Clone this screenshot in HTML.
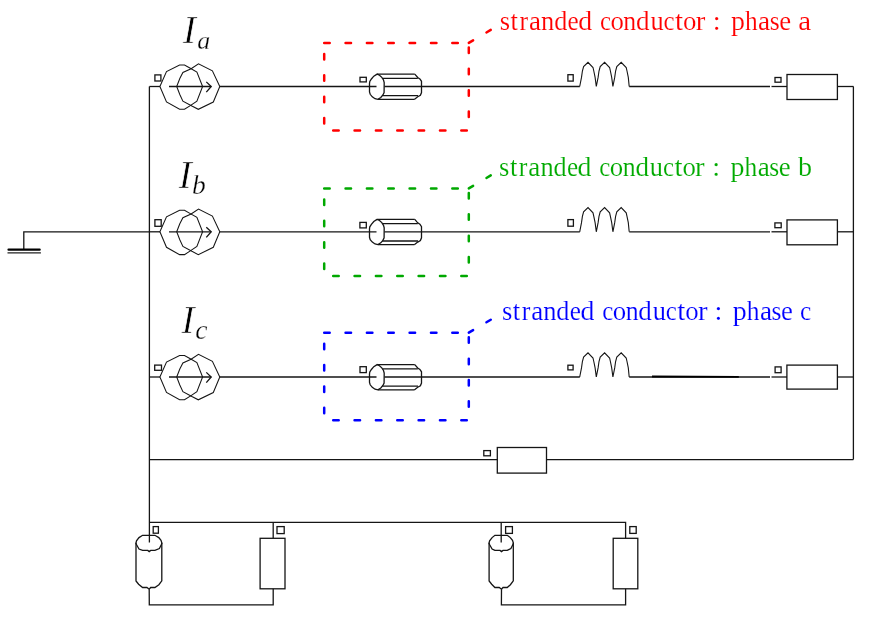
<!DOCTYPE html>
<html>
<head>
<meta charset="utf-8">
<style>
html,body{margin:0;padding:0;background:#fff;width:878px;height:634px;overflow:hidden;}
svg{display:block;will-change:transform;}
text{font-family:"Liberation Serif",serif;}
</style>
</head>
<body>
<svg width="878" height="634" viewBox="0 0 878 634">
<defs>
  <g id="row" fill="none" stroke="#151515" stroke-width="1.3">
    <!-- current source -->
    <polygon stroke-width="1.05" points="159.9,0 166.5,-14.9 179.6,-21.5 184.5,-21.5 190.3,-18.2 196.9,-14.5 202.6,0 196.9,14.6 190.3,19.1 184.5,22.8 179.6,22.8 166.5,15.5"/>
    <polygon stroke-width="1.05" points="176.7,0 179.8,-8 182.9,-14.1 191.1,-17.8 198.5,-22.7 212.4,-15.7 219.8,0 213.3,15.5 198.3,22.8 191.9,19.5 182.9,14.6 179.8,8"/>
    <line x1="169" y1="0" x2="211.2" y2="0"/>
    <polyline points="206.3,-4.6 211.2,0 206.3,5.6"/>
    
    <!-- wires -->
    <line x1="149.4" y1="0" x2="160" y2="0"/>
    <line x1="219.8" y1="0" x2="376.5" y2="0"/>
    <!-- cable -->
    <polygon points="377.1,-12.4 373.8,-10.3 371.4,-7.5 369.8,-5 369.5,-3 369.5,5.5 370.2,7.8 372.3,10.3 375,12.2 377.9,12.8 380.8,11 382.9,8.5 384.1,6 384.2,-4 383.5,-6.5 381.8,-9.2 379.5,-11.3"/>
    <line x1="377.2" y1="-12.4" x2="414.8" y2="-12.4"/>
    <line x1="382.6" y1="-8.2" x2="417.8" y2="-8.2"/>
    <line x1="384.5" y1="0" x2="579.8" y2="0"/>
    <line x1="382.2" y1="9.2" x2="418" y2="9.2"/>
    <line x1="377.9" y1="12.9" x2="414.3" y2="12.9"/>
    <polyline points="414.8,-12.4 417.7,-9 419.9,-7.6 421.5,-5.2 421.5,6 420.4,8.7 417.7,10.3 414.3,12.9"/>
    
    <!-- inductor -->
    <polyline stroke-width="1.1" points="579.7,0 581.5,-9.1 582.4,-15.5 583.6,-19.9 588.0,-24.2 593.0,-19 593.8,-15.5 595.1,-9.1 596.3,0 598.1,-9.1 599.0,-15.5 600.2,-19.9 604.6,-24.2 609.6,-19 610.4,-15.5 611.7,-9.1 612.9,0 614.7,-9.1 615.6,-15.5 616.8,-19.9 621.2,-24.2 626.2,-19 627.0,-15.5 628.3,-9.1 629.2,0"/><line x1="629.2" y1="0" x2="770" y2="0"/>
    
    <!-- resistor -->
    <line x1="771.5" y1="0" x2="787" y2="0"/>
    
    
    <line x1="837.4" y1="0" x2="853.5" y2="0"/>
  </g>
  <g id="dbox" fill="none" stroke-width="2.5" stroke-linecap="round">
    <line x1="324.2" y1="0" x2="468.8" y2="0" stroke-dasharray="5.5 15.85" stroke-dashoffset="0"/>
    <line x1="468.8" y1="0" x2="468.8" y2="87.5" stroke-dasharray="5.5 15.85" stroke-dashoffset="-4.6"/>
    <line x1="468.8" y1="87.5" x2="324.2" y2="87.5" stroke-dasharray="5.5 15.85" stroke-dashoffset="-2"/>
    <line x1="324.2" y1="87.5" x2="324.2" y2="0" stroke-dasharray="5.5 15.85" stroke-dashoffset="-6.9"/>
    <line x1="468.8" y1="0" x2="491.3" y2="-13.3" stroke-dasharray="5 15.5"/>
  </g>
</defs>

<!-- rows -->
<use href="#row" transform="translate(0,86.5)"/>
<use href="#row" transform="translate(0,231.8)"/>
<use href="#row" transform="translate(0,377)"/>

<!-- dashed boxes -->
<use href="#dbox" stroke="#ff0000" transform="translate(0,42.9)"/>
<use href="#dbox" stroke="#00a800" transform="translate(0,188.4)"/>
<use href="#dbox" stroke="#0000ff" transform="translate(0,332.7)"/>

<g fill="none" stroke="#151515" stroke-width="1.3">
  <!-- buses -->
  <polyline points="149.4,86.5 149.4,542.6"/>
  <line x1="853.4" y1="86.5" x2="853.4" y2="459.6"/>
  <!-- ground -->
  <polyline points="149.4,231.8 23.8,231.8 23.8,249.5"/>
  <!-- small squares -->
  <rect x="154.9" y="74.9" width="6.0" height="6.1"/>
  <rect x="360.0" y="77.3" width="6.3" height="4.6"/>
  <rect x="567.9" y="74.7" width="5.3" height="6.4"/>
  <rect x="775.0" y="77.5" width="6.0" height="4.7"/>
  <rect x="154.9" y="219.7" width="6.3" height="6.6"/>
  <rect x="359.9" y="222.4" width="6.4" height="5.5"/>
  <rect x="567.9" y="219.6" width="5.5" height="6.6"/>
  <rect x="774.9" y="222.9" width="6.3" height="4.8"/>
  <rect x="154.7" y="365.1" width="6.8" height="5.2"/>
  <rect x="360.0" y="366.7" width="6.3" height="5.9"/>
  <rect x="567.9" y="365.2" width="5.2" height="4.7"/>
  <rect x="775.1" y="366.9" width="6.0" height="5.8"/>
  <!-- row resistors -->
  <rect x="787" y="74.5" width="50.4" height="25"/>
  <rect x="787" y="219.9" width="50.4" height="24.9"/>
  <rect x="786.9" y="365.1" width="50.5" height="24"/>
  <!-- bottom resistor -->
  <line x1="149.4" y1="459.6" x2="497.5" y2="459.6"/>
  <rect x="497.3" y="447.5" width="49.2" height="25.6"/>
  <line x1="546.5" y1="459.6" x2="853.4" y2="459.6"/>
  <rect x="483.8" y="450.6" width="6.6" height="5.2"/>
  <!-- bottom section -->
  <polyline points="149.4,522.3 625.6,522.3 625.6,538.3"/>
  <line x1="273.2" y1="522.3" x2="273.2" y2="538.3"/>
  <line x1="501.2" y1="522.3" x2="501.2" y2="542.6"/>
  <!-- left cylinder -->
  <polygon points="136.0,542.8 136.5,540.9 139.0,537.6 142.6,535.3 154.9,535.3 158.8,537.6 161.0,540.4 161.8,542.8 161.8,543.7 159.4,548.5 154.9,550.4 150.7,550.4 149.2,551.6 147.8,550.4 142.6,550.4 139.0,549 136.0,543.7"/>
  <polyline points="136.0,542.8 136.0,580.9 138.6,584.2 142.6,587.5 146.9,587.5 149.2,589.2 150.7,587.5 154.9,587.5 158.9,584.7 161.8,580.9 161.8,542.8"/>
  <polyline points="149.2,589.2 149.3,604.8 273.2,604.8 273.2,588.8"/>
  <rect x="260.1" y="538.3" width="24.9" height="50.5"/>
  <rect x="153.2" y="526.6" width="5.2" height="6.6"/>
  <rect x="277" y="526.6" width="7.2" height="7"/>
  <!-- right cylinder -->
  <polygon points="489.1,542.8 489.6,540.9 492.1,537.6 494.9,535.3 507.2,535.3 510.3,537.6 512.5,540.4 513.3,542.8 513.3,543.7 510.9,548.5 507.2,550.4 503.0,550.4 501.5,551.6 500.1,550.4 494.9,550.4 492.1,549 489.1,543.7"/>
  <polyline points="489.1,542.8 489.1,580.9 491.7,584.2 494.9,587.5 499.2,587.5 501.5,589.2 503.0,587.5 507.2,587.5 510.4,584.7 513.3,580.9 513.3,542.8"/>
  <polyline points="501.5,589.2 501.4,604.8 625.6,604.8 625.6,588.8"/>
  <rect x="613.2" y="538.3" width="24.6" height="50.5"/>
  <rect x="505.6" y="526.6" width="6.8" height="6.8"/>
  <rect x="629.8" y="526.6" width="6.4" height="6.8"/>
  <!-- row c thick segment -->
  <line x1="652" y1="376.5" x2="738.8" y2="376.9" stroke-width="1.9" stroke="#000"/>
</g>
<!-- ground bars -->
<line x1="8.5" y1="249.7" x2="39.7" y2="249.7" stroke="#000" stroke-width="2.2" stroke-linecap="round"/>
<line x1="7.5" y1="252.9" x2="40.9" y2="252.9" stroke="#222" stroke-width="1.3"/>

<!-- labels -->
<g font-style="italic" fill="#000" stroke="#fff" stroke-width="0.3">
  <text x="182.8" y="43.3" font-size="40" stroke-width="0.7">I</text><text x="197.3" y="48.6" font-size="26">a</text>
  <text x="178.6" y="188.2" font-size="40" stroke-width="0.7">I</text><text x="191.9" y="193.6" font-size="27.5">b</text>
  <text x="181.3" y="333.1" font-size="40" stroke-width="0.7">I</text><text x="195.2" y="338.6" font-size="27.5">c</text>
</g>
<g font-size="27" stroke="#fff" stroke-width="0.15">
  <g fill="#ff0000"><text transform="translate(499.74,30) scale(0.983,1)">s</text><text transform="translate(510.61,30) scale(0.991,1)">t</text><text transform="translate(519.43,30) scale(0.959,1)">r</text><text transform="translate(529.02,30) scale(1.000,1)">a</text><text transform="translate(541.12,30) scale(0.979,1)">n</text><text transform="translate(554.15,30) scale(0.970,1)">d</text><text transform="translate(567.59,30) scale(0.930,1)">e</text><text transform="translate(578.29,30) scale(1.027,1)">d</text><text transform="translate(599.90,30) scale(0.921,1)">c</text><text transform="translate(610.43,30) scale(0.992,1)">o</text><text transform="translate(623.34,30) scale(0.955,1)">n</text><text transform="translate(636.02,30) scale(1.002,1)">d</text><text transform="translate(650.41,30) scale(0.979,1)">u</text><text transform="translate(663.50,30) scale(0.921,1)">c</text><text transform="translate(674.99,30) scale(1.074,1)">t</text><text transform="translate(683.03,30) scale(0.992,1)">o</text><text transform="translate(695.68,30) scale(1.066,1)">r</text><text transform="translate(712.84,30) scale(1.049,1)">:</text><text transform="translate(730.99,30) scale(1.035,1)">p</text><text transform="translate(744.92,30) scale(0.941,1)">h</text><text transform="translate(758.11,30) scale(1.009,1)">a</text><text transform="translate(769.68,30) scale(0.947,1)">s</text><text transform="translate(779.13,30) scale(0.989,1)">e</text><text transform="translate(798.25,30) scale(1.074,1)">a</text></g>
  <g fill="#00aa00"><text transform="translate(499.04,175.8) scale(0.983,1)">s</text><text transform="translate(509.91,175.8) scale(0.991,1)">t</text><text transform="translate(518.73,175.8) scale(0.959,1)">r</text><text transform="translate(528.32,175.8) scale(1.000,1)">a</text><text transform="translate(540.42,175.8) scale(0.979,1)">n</text><text transform="translate(553.45,175.8) scale(0.970,1)">d</text><text transform="translate(566.89,175.8) scale(0.930,1)">e</text><text transform="translate(577.59,175.8) scale(1.027,1)">d</text><text transform="translate(599.30,175.8) scale(0.921,1)">c</text><text transform="translate(609.83,175.8) scale(0.992,1)">o</text><text transform="translate(622.74,175.8) scale(0.955,1)">n</text><text transform="translate(635.42,175.8) scale(1.002,1)">d</text><text transform="translate(649.81,175.8) scale(0.979,1)">u</text><text transform="translate(662.90,175.8) scale(0.921,1)">c</text><text transform="translate(674.39,175.8) scale(1.074,1)">t</text><text transform="translate(682.43,175.8) scale(0.992,1)">o</text><text transform="translate(695.08,175.8) scale(1.066,1)">r</text><text transform="translate(712.14,175.8) scale(1.049,1)">:</text><text transform="translate(730.59,175.8) scale(1.035,1)">p</text><text transform="translate(744.52,175.8) scale(0.941,1)">h</text><text transform="translate(757.71,175.8) scale(1.009,1)">a</text><text transform="translate(769.28,175.8) scale(0.947,1)">s</text><text transform="translate(778.73,175.8) scale(0.989,1)">e</text><text transform="translate(797.90,175.8) scale(1.043,1)">b</text></g>
  <g fill="#0000ff"><text transform="translate(501.94,320) scale(0.983,1)">s</text><text transform="translate(512.81,320) scale(0.991,1)">t</text><text transform="translate(521.63,320) scale(0.959,1)">r</text><text transform="translate(531.22,320) scale(1.000,1)">a</text><text transform="translate(543.32,320) scale(0.979,1)">n</text><text transform="translate(556.35,320) scale(0.970,1)">d</text><text transform="translate(569.79,320) scale(0.930,1)">e</text><text transform="translate(580.49,320) scale(1.027,1)">d</text><text transform="translate(602.20,320) scale(0.921,1)">c</text><text transform="translate(612.73,320) scale(0.992,1)">o</text><text transform="translate(625.64,320) scale(0.955,1)">n</text><text transform="translate(638.32,320) scale(1.002,1)">d</text><text transform="translate(652.71,320) scale(0.979,1)">u</text><text transform="translate(665.80,320) scale(0.921,1)">c</text><text transform="translate(677.29,320) scale(1.074,1)">t</text><text transform="translate(685.33,320) scale(0.992,1)">o</text><text transform="translate(697.98,320) scale(1.066,1)">r</text><text transform="translate(714.44,320) scale(1.049,1)">:</text><text transform="translate(732.79,320) scale(1.035,1)">p</text><text transform="translate(746.72,320) scale(0.941,1)">h</text><text transform="translate(759.91,320) scale(1.009,1)">a</text><text transform="translate(771.48,320) scale(0.947,1)">s</text><text transform="translate(780.93,320) scale(0.989,1)">e</text><text transform="translate(799.88,320) scale(0.940,1)">c</text></g>
</g>
</svg>
</body>
</html>
